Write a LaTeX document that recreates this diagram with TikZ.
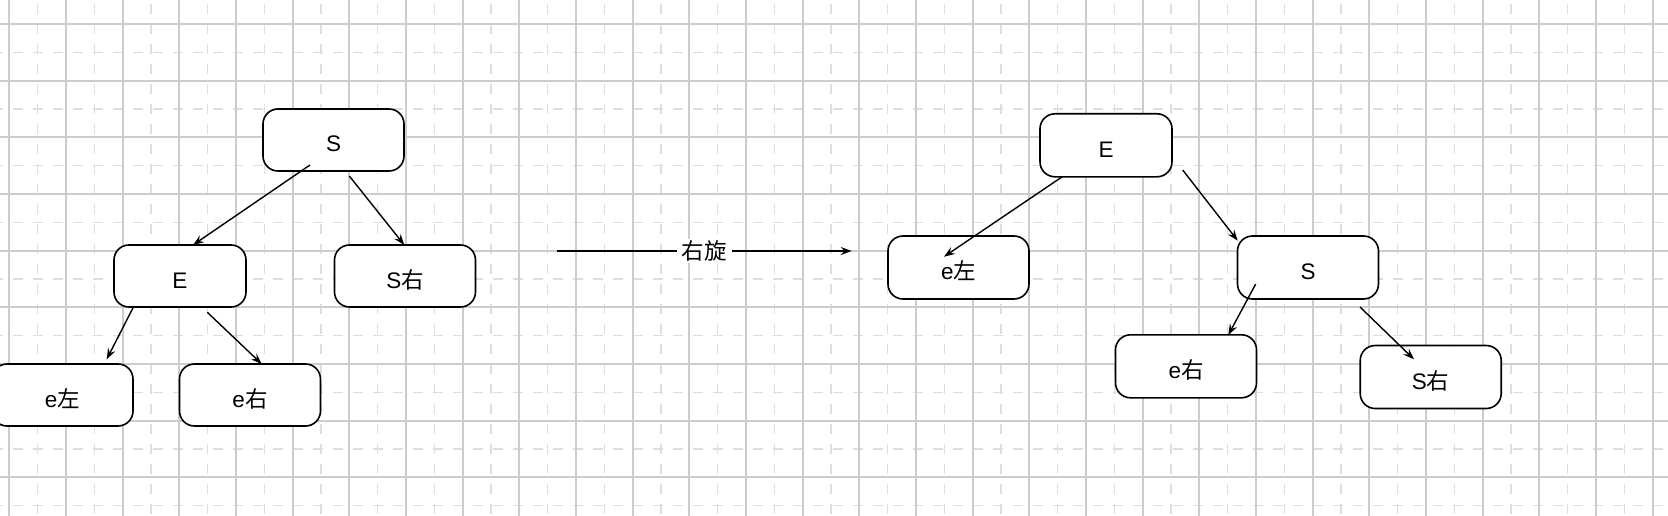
\documentclass[tikz,border=0pt]{standalone}
\usepackage{fontspec}
\setmainfont{Liberation Sans}
\newfontfamily\cjk{Noto Sans CJK SC}
\usetikzlibrary{arrows.meta,calc}
\tikzset{
  majorline/.style={line width=1.8pt, draw=black!20},
  minorline/.style={line width=1.4pt, draw=black!13, dash pattern=on 10pt off 10pt},
  box/.style={draw, line width=1.6pt, rounded corners=15pt, minimum width=141pt, minimum height=62pt,
    fill=white, inner sep=0pt, text height=24pt, text depth=0pt, font=\fontsize{22.5}{27}\selectfont},
  arr/.style={line width=1.4pt, -{Stealth[length=11pt,width=8pt,inset=4pt]}},
  lbl/.style={fill=white, inner xsep=5pt, inner ysep=2pt, font=\fontsize{22.5}{27}\selectfont\cjk}
}
\begin{document}
\begin{tikzpicture}[x=1pt,y=-1pt]
\useasboundingbox (0,0) rectangle (1668,516);
\fill[white] (0,0) rectangle (1668,516);
\begin{scope}
\clip (0,0) rectangle (1668,516);
% minor dashed grid
\foreach \i in {0,...,28} \draw[minorline] ({37.67+56.667*\i},-16) -- ({37.67+56.667*\i},530);
\foreach \j in {0,...,8} \draw[minorline] (-6.7,{52.33+56.667*\j}) -- (1690,{52.33+56.667*\j});
% major grid
\foreach \i in {0,...,29} \draw[majorline] ({9.33+56.667*\i},0) -- ({9.33+56.667*\i},516);
\foreach \j in {0,...,8} \draw[majorline] (0,{24+56.667*\j}) -- (1668,{24+56.667*\j});
\end{scope}

% left tree
\node[box] (LS) at (333.5,140) {S};
\node[box, minimum width=132pt] (LE) at (180,276) {E};
\node[box] (LSr) at (405,276) {S{\cjk 右}};
\node[box] (Lel) at (62.5,395) {e{\cjk 左}};
\node[box] (Ler) at (250,395) {e{\cjk 右}};

\draw[arr] ($(LS)+(-23.5,25)$) -- ($(LE)+(13,-31)$);
\draw[arr] ($(LS)+(15.8,36)$) -- ($(LSr)+(-0.7,-31)$);
\draw[arr] ($(LE)+(-46.7,31.3)$) -- ($(Lel)+(44.2,-35.7)$);
\draw[arr] ($(LE)+(27.3,36.3)$) -- ($(Ler)+(11.7,-31)$);

% rotation arrow
\coordinate (ra) at (556.7,251);
\coordinate (rb) at (851.7,251);
\draw[arr] (ra) -- node[lbl] {右旋} (rb);

% right tree
\node[box, minimum width=132pt, minimum height=63pt] (RE) at (1106,145.3) {E};
\node[box, minimum height=63pt] (Rel) at (958.5,267.5) {e{\cjk 左}};
\node[box, minimum height=63pt] (RS) at (1308,267.5) {S};
\node[box, minimum height=63pt] (Rer) at (1186,366.3) {e{\cjk 右}};
\node[box, minimum height=63pt] (RSr) at (1430.7,377) {S{\cjk 右}};

\draw[arr] ($(RE)+(-43.7,31.4)$) -- ($(Rel)+(-14.5,-10.8)$);
\draw[arr] ($(RE)+(76.7,24.7)$) -- ($(RS)+(-70.3,-26.8)$);
\draw[arr] ($(RS)+(-52.3,16.5)$) -- ($(Rer)+(42.3,-31.3)$);
\draw[arr] ($(RS)+(52,39.5)$) -- ($(RSr)+(-16.7,-17.7)$);
\end{tikzpicture}
\end{document}
